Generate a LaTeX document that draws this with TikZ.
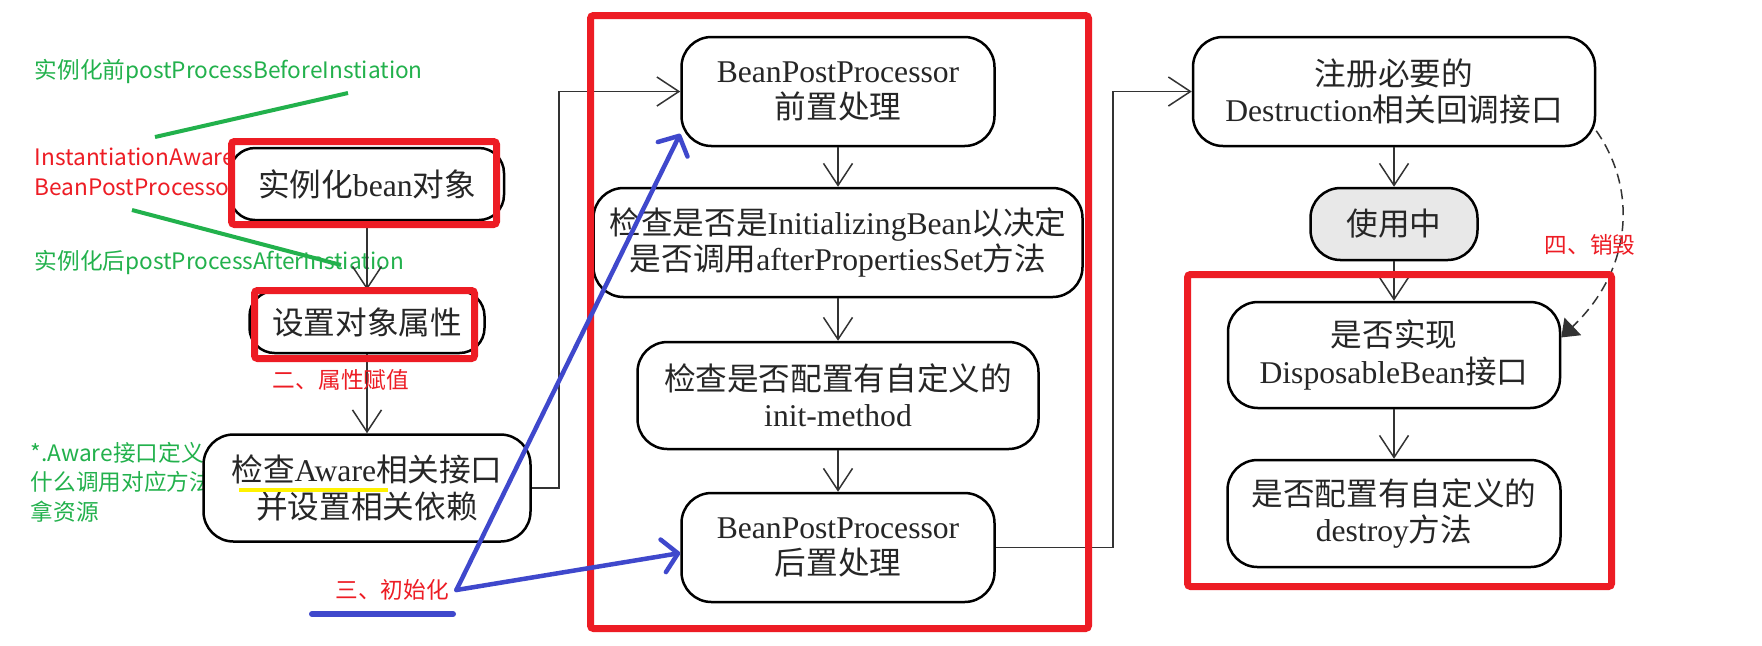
\documentclass[tikz,border=0pt]{standalone}
\usepackage{fontspec}
\setmainfont{Liberation Serif}
\newfontfamily\cjk{Noto Sans CJK SC}
\usetikzlibrary{arrows.meta}

\definecolor{hlred}{RGB}{237,28,36}
\definecolor{notegreen}{RGB}{34,177,76}
\definecolor{penblue}{RGB}{63,72,204}
\definecolor{penyellow}{RGB}{255,242,0}

\newcommand\zh[1]{{\cjk #1}}
\newcommand\boxfont{\fontsize{9}{10.3}\selectfont}
\newcommand\notefont{\fontsize{6.45}{8.4}\selectfont\cjk}

\tikzset{
  stage/.style={draw, line width=0.25mm, rounded corners=3mm, fill=white,
    align=center, inner sep=0pt, text=black!85, font=\boxfont},
  flow/.style={-{Straight Barb[length=2.2mm,width=2.9mm]}, line width=0.15mm, black!80},
  hl/.style={draw=hlred, line width=0.7mm, rounded corners=0.3mm},
  note/.style={inner sep=0pt, font=\notefont, align=left},
  pen/.style={penblue, line width=0.45mm, line cap=round},
  penhead/.style={-{Straight Barb[length=1.5mm,width=3.3mm,round]}},
}

\begin{document}
\begin{tikzpicture}[x=0.1mm, y=-0.1mm]
\fill[white] (0,0) rectangle (1762,645);
\useasboundingbox (0,0) rectangle (1762,645);

\node[note, notegreen, anchor=west] (pre) at (34,71) {实例化前postProcessBeforeInstiation};
\node[note, hlred, anchor=west] (iabpp) at (34,172) {InstantiationAware\\BeanPostProcessor};
\node[note, notegreen, anchor=west] (post) at (34,262) {实例化后postProcessAfterInstiation};
\node[note, notegreen, anchor=west] (awnote) at (30,482) {*.Aware接口定义\\什么调用对应方法\\拿资源};

\node[stage, minimum width=27.4mm, minimum height=7.2mm, rounded corners=2.5mm] (inst) at (367,184) {\zh{实例化}bean\zh{对象}};
\node[stage, minimum width=23.5mm, minimum height=6.2mm, rounded corners=2.5mm] (setp) at (367,322) {\zh{设置对象属性}};
\node[stage, minimum width=32.7mm, minimum height=10.7mm] (aware) at (367,488) {\zh{检查}Aware\zh{相关接口}\\\zh{并设置相关依赖}};

\node[stage, minimum width=31.3mm, minimum height=10.9mm] (bppb) at (838,91.5) {BeanPostProcessor\\\zh{前置处理}};
\node[stage, minimum width=48.9mm, minimum height=10.9mm] (initb) at (838,242.5) {\zh{检查是否是}InitializingBean\zh{以决定}\\\zh{是否调用}afterPropertiesSet\zh{方法}};
\node[stage, minimum width=40.1mm, minimum height=10.7mm] (initm) at (838,395.5) {\zh{检查是否配置有自定义的}\\init-method};
\node[stage, minimum width=31.3mm, minimum height=10.9mm] (bppa) at (838,547.5) {BeanPostProcessor\\\zh{后置处理}};

\node[stage, minimum width=40.2mm, minimum height=10.9mm] (dest) at (1394,91.5) {\zh{注册必要的}\\Destruction\zh{相关回调接口}};
\node[stage, minimum width=16.7mm, minimum height=7.2mm, fill=black!9] (use) at (1394,224) {\zh{使用中}};
\node[stage, minimum width=33.2mm, minimum height=10.6mm] (disp) at (1394,355) {\zh{是否实现}\\DisposableBean\zh{接口}};
\node[stage, minimum width=33.3mm, minimum height=10.7mm] (destroy) at (1394,513.5) {\zh{是否配置有自定义的}\\destroy\zh{方法}};

\draw[flow] (inst) -- (setp);
\draw[flow] (setp) -- (aware);
\draw[flow] (aware.east) -- ++(27,0) |- (bppb.west);
\draw[flow] (bppb) -- (initb);
\draw[flow] (initb) -- (initm);
\draw[flow] (initm) -- (bppa);
\draw[flow] (bppa.east) -- ++(117,0) |- (dest.west);
\draw[flow] (dest) -- (use);
\draw[flow] (use) -- (disp);
\draw[flow] (disp) -- (destroy);
\draw[line width=0.15mm, black!80, dash pattern=on 1mm off 0.6mm, -{Triangle[length=1.6mm,width=2.4mm]}]
  (dest.-11) .. controls (1638,190) and (1632,270) .. (disp.6);

\draw[hl] (231.5,141.5) rectangle (496.5,224.5);
\draw[hl] (254.5,290.5) rectangle (474.5,358.5);
\draw[hl] (590.5,15.5) rectangle (1088.5,628.5);
\draw[hl] (1187.5,274.5) rectangle (1611.5,586.5);

\node[note, hlred] (stage2) at (341,380) {二、属性赋值};
\node[note, hlred] (stage3) at (392,590) {三、初始化};
\node[note, hlred] (stage4) at (1590,245) {四、销毁};

\draw[notegreen, line width=0.4mm] (155,137) -- (348,93);
\draw[notegreen, line width=0.4mm] (132,210) -- (341,265);
\draw[penyellow, line width=0.45mm] (239,490) -- (388,490);

\draw[pen, penhead] ([xshift=0.7mm]stage3.east) -- (bppb.195);
\draw[pen, penhead] ([xshift=0.7mm]stage3.east) -- (bppa.182);
\draw[pen, line width=0.6mm] (312,614) -- (453,614);
\end{tikzpicture}
\end{document}
